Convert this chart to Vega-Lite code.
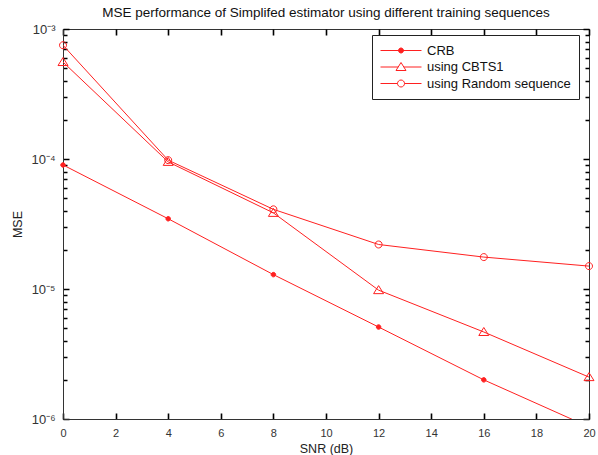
{
  "$schema": "https://vega.github.io/schema/vega-lite/v6.json",
  "width": 526,
  "height": 390,
  "autosize": "none",
  "padding": {"left": 63, "top": 29, "right": 9, "bottom": 36},
  "title": {"text": "MSE performance of Simplifed estimator using different training sequences", "font": "Liberation Sans", "fontSize": 13.5, "fontWeight": "normal", "color": "#111", "offset": 4},
  "config": {
    "view": {"stroke": "#333", "strokeWidth": 1},
    "font": "Liberation Sans"
  },
  "data": {"values": [
    {"snr": 0, "mse": 9.0e-5, "series": "CRB"},
    {"snr": 4, "mse": 3.47e-5, "series": "CRB"},
    {"snr": 8, "mse": 1.29e-5, "series": "CRB"},
    {"snr": 12, "mse": 5.1e-6, "series": "CRB"},
    {"snr": 16, "mse": 2.0e-6, "series": "CRB"},
    {"snr": 20, "mse": 8.7e-7, "series": "CRB"},
    {"snr": 0, "mse": 5.57e-4, "series": "using CBTS1"},
    {"snr": 4, "mse": 9.5e-5, "series": "using CBTS1"},
    {"snr": 8, "mse": 3.85e-5, "series": "using CBTS1"},
    {"snr": 12, "mse": 9.8e-6, "series": "using CBTS1"},
    {"snr": 16, "mse": 4.67e-6, "series": "using CBTS1"},
    {"snr": 20, "mse": 2.1e-6, "series": "using CBTS1"},
    {"snr": 0, "mse": 7.5e-4, "series": "using Random sequence"},
    {"snr": 4, "mse": 9.8e-5, "series": "using Random sequence"},
    {"snr": 8, "mse": 4.1e-5, "series": "using Random sequence"},
    {"snr": 12, "mse": 2.2e-5, "series": "using Random sequence"},
    {"snr": 16, "mse": 1.76e-5, "series": "using Random sequence"},
    {"snr": 20, "mse": 1.5e-5, "series": "using Random sequence"}
  ]},
  "encoding": {
    "x": {"field": "snr", "type": "quantitative", "scale": {"domain": [0, 20], "nice": false},
          "axis": {"orient": "bottom", "values": [0,2,4,6,8,10,12,14,16,18,20], "domain": true, "domainColor": "#333", "ticks": false,
                   "grid": true, "gridColor": "#000", "gridOpacity": 1, "gridWidth": 1.6, "gridDash": [6, 378, 6, 1000],
                   "labelPadding": 8, "labelFontSize": 11, "labelColor": "#333", "labelFont": "Liberation Sans", "labelFlush": false,
                   "title": "SNR (dB)", "titlePadding": 4, "titleFont": "Liberation Sans", "titleFontSize": 12.5, "titleFontWeight": "normal", "titleColor": "#222"}},
    "y": {"field": "mse", "type": "quantitative", "scale": {"type": "log", "domain": [1e-6, 1e-3], "nice": false},
          "axis": {"orient": "left", "values": [1e-6,2e-6,3e-6,4e-6,5e-6,6e-6,7e-6,8e-6,9e-6,1e-5,2e-5,3e-5,4e-5,5e-5,6e-5,7e-5,8e-5,9e-5,1e-4,2e-4,3e-4,4e-4,5e-4,6e-4,7e-4,8e-4,9e-4,1e-3],
                   "domain": true, "domainColor": "#333", "ticks": false, "labelOverlap": false,
                   "grid": true, "gridColor": "#000", "gridOpacity": 1, "gridWidth": 1.6,
                   "gridDash": {"condition": {"test": "abs(log(datum.value)/LN10 - round(log(datum.value)/LN10)) < 0.001", "value": [6, 514, 6, 1000]}, "value": [4, 518, 4, 1000]},
                   "labelPadding": 8, "labelFontSize": 13, "labelColor": "#333", "labelFont": "Liberation Sans",
                   "title": "MSE", "titlePadding": 6, "titleFont": "Liberation Sans", "titleFontSize": 12.5, "titleFontWeight": "normal", "titleColor": "#222",
                   "labelExpr": "abs(log(datum.value)/LN10 - round(log(datum.value)/LN10)) < 0.001 ? (datum.value > 0.00099 ? '10⁻³' : datum.value > 0.000099 ? '10⁻⁴' : datum.value > 0.0000099 ? '10⁻⁵' : '10⁻⁶') : ''"}}
  },
  "layer": [
    {
      "mark": {"type": "line", "clip": true, "color": "#ff2020", "strokeWidth": 1},
      "encoding": {
        "detail": {"field": "series"}
      }
    },
    {
      "transform": [{"filter": "datum.mse >= 0.000001"}],
      "mark": {"type": "point", "filled": false, "stroke": "#ff2020", "strokeWidth": 1, "size": 100, "opacity": 1},
      "encoding": {
        "shape": {"field": "series", "type": "nominal",
                  "scale": {"domain": ["CRB", "using CBTS1", "using Random sequence"],
                            "range": ["M0.45,0A0.45,0.45 0 1,1 -0.45,0A0.45,0.45 0 1,1 0.45,0Z", "M-1,0.7L0,-0.9L1,0.7Z", "M0.7,0A0.7,0.7 0 1,1 -0.7,0A0.7,0.7 0 1,1 0.7,0Z"]},
                  "legend": null},
        "fill": {"field": "series", "type": "nominal",
                 "scale": {"domain": ["CRB", "using CBTS1", "using Random sequence"], "range": ["#ff2020", "transparent", "transparent"]},
                 "legend": null}
      }
    },
    {
      "mark": {"type": "point", "opacity": 0, "filled": false, "strokeWidth": 1},
      "encoding": {
        "shape": {"field": "series", "type": "nominal",
                  "scale": {"domain": ["CRB", "using CBTS1", "using Random sequence"],
                            "range": ["M-1,0H4.857M2.287,0A0.357,0.357 0 1,1 1.573,0A0.357,0.357 0 1,1 2.287,0Z",
                                      "M-1,0H1.528M2.332,0H4.857M1.216,0.5L1.93,-0.643L2.644,0.5Z",
                                      "M-1,0H1.43M2.43,0H4.857M2.43,0A0.5,0.5 0 1,1 1.43,0A0.5,0.5 0 1,1 2.43,0Z"]},
                  "legend": {"title": null, "orient": "none", "legendX": 309, "legendY": 6, "strokeColor": "#222", "fillColor": "white", "padding": 8,
                             "labelFont": "Liberation Sans", "labelFontSize": 13, "labelColor": "#111", "symbolSize": 196, "symbolStrokeWidth": 1,
                             "symbolOpacity": 1, "labelOffset": 32, "rowPadding": 1.5}},
        "fill": {"field": "series", "type": "nominal",
                 "scale": {"domain": ["CRB", "using CBTS1", "using Random sequence"], "range": ["#ff2020", "transparent", "transparent"]},
                 "legend": {"title": null, "orient": "none", "legendX": 309, "legendY": 6, "strokeColor": "#222", "fillColor": "white", "padding": 8,
                             "labelFont": "Liberation Sans", "labelFontSize": 13, "labelColor": "#111", "symbolSize": 196, "symbolStrokeWidth": 1,
                             "symbolOpacity": 1, "labelOffset": 32, "rowPadding": 1.5}},
        "stroke": {"field": "series", "type": "nominal",
                 "scale": {"domain": ["CRB", "using CBTS1", "using Random sequence"], "range": ["#ff2020", "#ff2020", "#ff2020"]},
                 "legend": {"title": null, "orient": "none", "legendX": 309, "legendY": 6, "strokeColor": "#222", "fillColor": "white", "padding": 8,
                             "labelFont": "Liberation Sans", "labelFontSize": 13, "labelColor": "#111", "symbolSize": 196, "symbolStrokeWidth": 1,
                             "symbolOpacity": 1, "labelOffset": 32, "rowPadding": 1.5}}
      }
    }
  ],
  "resolve": {
    "scale": {"shape": "independent", "fill": "independent", "stroke": "independent"},
    "legend": {"shape": "independent", "fill": "independent", "stroke": "independent"}
  }
}
